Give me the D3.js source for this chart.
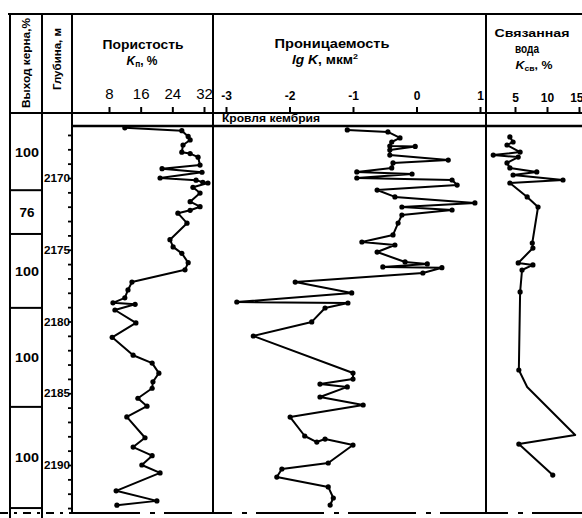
<!DOCTYPE html>
<html><head><meta charset="utf-8">
<script src="https://cdn.jsdelivr.net/npm/d3@7"></script>
<style>
body{margin:0;background:#fff}
svg{display:block}
text{font-family:"Liberation Sans",Arial,sans-serif;fill:#000}
</style>
</head><body>
<svg id="c" width="582" height="518"></svg>
<script>
// ---------- data ----------
const porosityTicks = [8, 16, 24, 32];
const permeabilityTicks = [-3, -2, -1, 0, 1];
const waterTicks = [5, 10, 15];
const depthLabels = [2170, 2175, 2180, 2185, 2190];

const coreRecovery = [100, 76, 100, 100, 100];
const coreBoundaries = [2170.85, 2173.9, 2179.05, 2185.95, 2193.0];

const porosityDepth = [2166.5, 2166.7, 2167.1, 2167.35, 2167.7, 2168.2, 2168.3, 2168.55, 2169.1, 2169.35, 2169.6, 2170.0, 2170.15, 2170.3, 2170.35, 2170.65, 2171.05, 2171.65, 2172.0, 2172.25, 2172.45, 2173.15, 2174.3, 2174.8, 2175.25, 2175.9, 2176.4, 2177.25, 2177.8, 2178.35, 2178.7, 2178.8, 2179.2, 2180.1, 2181.1, 2182.35, 2182.9, 2183.6, 2184.2, 2184.65, 2185.35, 2185.9, 2186.65, 2188.1, 2188.75, 2189.35, 2190.0, 2190.55, 2191.8, 2192.5, 2192.8];
const porosityValue = [12.0, 26.4, 28.0, 28.5, 26.7, 26.4, 28.5, 30.5, 31.0, 21.4, 31.5, 20.9, 30.0, 31.7, 33.0, 29.2, 31.0, 28.5, 31.0, 28.5, 25.4, 27.7, 23.4, 24.2, 26.4, 28.0, 27.2, 13.8, 12.8, 12.0, 9.0, 14.6, 9.5, 14.8, 8.8, 14.1, 18.9, 20.6, 19.1, 18.9, 15.3, 17.6, 12.5, 17.1, 14.1, 18.9, 16.3, 20.9, 9.8, 20.1, 10.0];

const permDepth = [2166.65, 2166.79, 2167.21, 2167.49, 2167.77, 2167.8, 2168.05, 2168.4, 2168.75, 2168.95, 2169.3, 2169.58, 2169.72, 2170.0, 2170.14, 2170.49, 2170.84, 2171.32, 2171.74, 2172.02, 2172.23, 2172.58, 2173.14, 2173.97, 2174.46, 2174.67, 2175.16, 2175.85, 2175.99, 2176.2, 2176.25, 2176.62, 2177.25, 2178.01, 2178.64, 2178.71, 2179.06, 2180.03, 2181.01, 2183.59, 2184.01, 2184.36, 2184.56, 2185.26, 2185.82, 2186.66, 2187.98, 2188.4, 2188.19, 2188.61, 2189.86, 2190.28, 2190.84, 2191.53, 2192.3, 2192.79];
const permValue = [-1.09, -0.45, -0.26, -0.39, -0.42, -0.02, -0.42, -0.42, 0.50, -0.37, -0.39, -0.94, -0.07, -0.94, 0.56, 0.64, -0.62, -0.34, 0.92, -0.23, 0.56, -0.23, -0.29, -0.37, -0.86, -0.34, -0.62, -0.18, 0.17, -0.53, 0.40, 0.10, -1.91, -1.02, -2.83, -1.08, -1.44, -1.65, -2.57, -1.0, -1.0, -1.52, -1.09, -1.52, -0.84, -1.99, -1.76, -1.57, -1.44, -1.0, -1.39, -2.12, -2.2, -1.39, -1.31, -1.36];

const waterDepth = [2167.14, 2167.49, 2167.7, 2168.19, 2168.4, 2168.54, 2168.95, 2169.3, 2169.58, 2169.79, 2170.14, 2170.35, 2171.32, 2172.02, 2174.53, 2174.88, 2175.92, 2176.06, 2176.41, 2177.94, 2183.38, 2184.56, 2187.91, 2188.54, 2190.7];
const waterValue = [4.2, 4.7, 3.75, 5.8, 1.6, 5.5, 3.75, 4.2, 8.4, 4.7, 12.5, 4.2, 6.9, 8.6, 7.7, 7.8, 5.5, 7.8, 6.1, 5.8, 5.6, 6.9, 14.4, 5.6, 10.9];
const waterMarked = [1,1,1,1,1,1,1,1,1,1,1,1,1,1,1,1,1,1,1,1,1,0,0,1,1];

// ---------- layout ----------
const svg = d3.select("#c");
const W = 582;
const xCol0 = 10, xCol1 = 42, xTrack0 = 72, xTrack1 = 213, xTrack2 = 486;
const yTop = 14, yHead = 113, yBand = 126, yBottom = 513;

const y = d3.scaleLinear().domain([2170, 2190]).range([178, 465]);
const xPor = d3.scaleLinear().domain([8, 32]).range([109, 204]);
const xPerm = d3.scaleLinear().domain([-3, 1]).range([226, 480]);
const xWat = d3.scaleLinear().domain([5, 10]).range([515, 547]);

// frame lines
const g = svg.append("g").attr("stroke", "#000").attr("fill", "none");
g.append("line").attr("x1", 8).attr("x2", W).attr("y1", yTop).attr("y2", yTop).attr("stroke-width", 2.2);
g.append("line").attr("x1", xCol0).attr("x2", W).attr("y1", yHead).attr("y2", yHead).attr("stroke-width", 1.8);
g.append("line").attr("x1", xTrack0).attr("x2", W).attr("y1", yBand).attr("y2", yBand).attr("stroke-width", 2.4);
[[xCol0, 518], [xCol1, 518], [xTrack0, yBottom], [xTrack1, yBottom], [xTrack2, yBottom]].forEach(([x, yb]) => {
  g.append("line").attr("x1", x).attr("x2", x).attr("y1", yTop).attr("y2", yb).attr("stroke-width", 2);
});
// bottom dash-dot line
g.append("line").attr("x1", xTrack0).attr("x2", W).attr("y1", yBottom).attr("y2", yBottom)
  .attr("stroke-width", 2).attr("stroke-dasharray", "68,10,5,9");
g.append("line").attr("x1", 0).attr("x2", xTrack0).attr("y1", yBottom).attr("y2", yBottom)
  .attr("stroke-width", 2).attr("stroke-dasharray", "8,6,3,6");

// core recovery boxes
coreBoundaries.forEach(d => {
  g.append("line").attr("x1", xCol0).attr("x2", xCol1).attr("y1", y(d)).attr("y2", y(d)).attr("stroke-width", 2);
});
const boxTops = [yHead].concat(coreBoundaries.slice(0, -1).map(y));
coreRecovery.forEach((v, i) => {
  const yc = (boxTops[i] + y(coreBoundaries[i])) / 2;
  svg.append("text").attr("x", (xCol0 + xCol1) / 2 + 1).attr("y", yc + 5)
    .attr("text-anchor", "middle").attr("font-size", 13).attr("font-weight", "bold")
    .attr("textLength", v === 76 ? 15 : 24).attr("lengthAdjust", "spacingAndGlyphs").text(v);
});

// rotated column headers
svg.append("text").attr("transform", "translate(30,63) rotate(-90)").attr("text-anchor", "middle")
  .attr("font-size", 11).attr("font-weight", "bold").attr("textLength", 90).attr("lengthAdjust", "spacingAndGlyphs")
  .text("Выход керна,%");
svg.append("text").attr("transform", "translate(61,59) rotate(-90)").attr("text-anchor", "middle")
  .attr("font-size", 11).attr("font-weight", "bold").attr("textLength", 62).attr("lengthAdjust", "spacingAndGlyphs")
  .text("Глубина, м");

// track headers
function hText(x, yy, size, len, parts) {
  const t = svg.append("text").attr("x", x).attr("y", yy).attr("text-anchor", "middle")
    .attr("font-size", size).attr("font-weight", "bold");
  if (len) t.attr("textLength", len).attr("lengthAdjust", "spacingAndGlyphs");
  parts.forEach(p => {
    const s = t.append("tspan").text(p.t);
    if (p.i) s.attr("font-style", "italic");
    if (p.sub) s.attr("font-size", size * 0.7).attr("dy", 2);
    if (p.back) s.attr("dy", -2);
    if (p.sup) s.attr("font-size", size * 0.65).attr("dy", -5);
  });
  return t;
}
hText(143, 49, 12.5, 81, [{t: "Пористость"}]);
hText(142, 65, 12, 31, [{t: "K", i: 1}, {t: "п", sub: 1}, {t: ", %", back: 1}]);
hText(332, 48, 12.5, 115, [{t: "Проницаемость"}]);
hText(325, 64, 12, 66, [{t: "lg", i: 1}, {t: " K", i: 1}, {t: ", мкм"}, {t: "2", sup: 1}]);
hText(532, 37, 11.5, 75, [{t: "Связанная"}]);
hText(527, 53, 12, 24, [{t: "вода"}]);
hText(534, 69, 11.5, 37, [{t: "K", i: 1}, {t: "св", sub: 1}, {t: ", %", back: 1}]);

// "Кровля кембрия"
svg.append("text").attr("x", 222).attr("y", 122).attr("font-size", 10).attr("font-weight", "bold")
  .attr("textLength", 98).attr("lengthAdjust", "spacingAndGlyphs").text("Кровля кембрия");

// scale axes
function topAxis(scale, ticks, pad, size, weight) {
  const a = svg.append("g").attr("transform", `translate(0,${yHead})`)
    .call(d3.axisTop(scale).tickValues(ticks).tickSize(6).tickSizeOuter(0).tickPadding(pad)
      .tickFormat(d => String(d)));
  a.select(".domain").remove();
  a.selectAll(".tick line").attr("stroke", "#000").attr("stroke-width", 2);
  a.selectAll(".tick text").attr("font-size", size).attr("font-weight", weight)
    .attr("font-family", "Liberation Sans, Arial, sans-serif").attr("fill", "#000");
  return a;
}
topAxis(xPor, porosityTicks, 8, 15, "normal");
topAxis(xPerm, permeabilityTicks, 7, 12, "bold");
const wAx = topAxis(xWat, waterTicks, 5, 12, "bold");
wAx.selectAll(".tick text").filter(d => d === 15).attr("text-anchor", "end").attr("dx", 4);

// depth axis
const dAx = svg.append("g").attr("transform", `translate(${xTrack0},0)`)
  .call(d3.axisLeft(y).tickValues(d3.range(2167, 2194)).tickSize(4).tickFormat(""));
dAx.select(".domain").remove();
dAx.selectAll(".tick line").attr("stroke", "#000").attr("stroke-width", 1.8);
depthLabels.forEach(d => {
  svg.append("text").attr("x", 70).attr("y", y(d) + 4).attr("text-anchor", "end")
    .attr("font-size", 11).attr("font-weight", "bold").attr("textLength", 26)
    .attr("lengthAdjust", "spacingAndGlyphs").text(d);
});

// curves
function curve(xs, depths, values, marked) {
  const pts = depths.map((d, i) => [xs(values[i]), y(d)]);
  svg.append("path").attr("d", d3.line()(pts)).attr("fill", "none").attr("stroke", "#000")
    .attr("stroke-width", 2).attr("stroke-linejoin", "round");
  svg.append("g").selectAll("circle").data(pts.filter((p, i) => !marked || marked[i]))
    .join("circle").attr("cx", p => p[0]).attr("cy", p => p[1]).attr("r", 2.6).attr("fill", "#000");
}
curve(xPor, porosityDepth, porosityValue);
curve(xPerm, permDepth, permValue);
curve(xWat, waterDepth, waterValue, waterMarked);
</script>
</body></html>
